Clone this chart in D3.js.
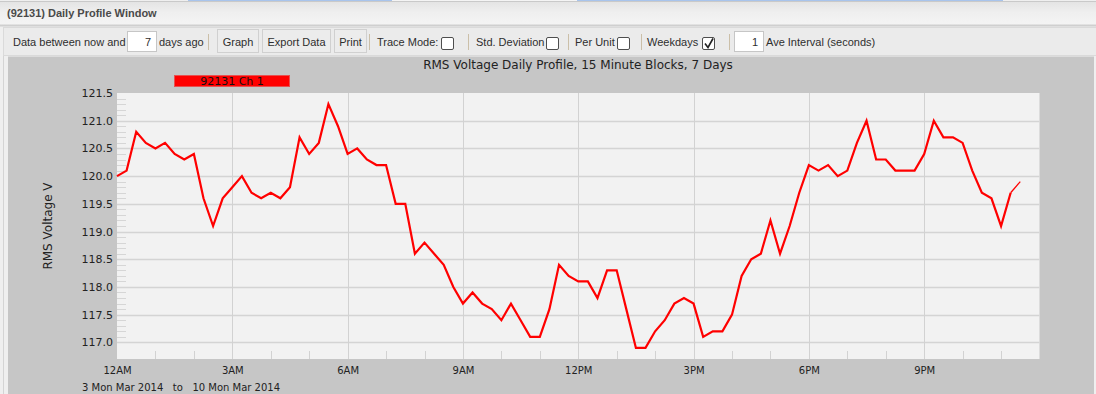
<!DOCTYPE html>
<html><head><meta charset="utf-8">
<script src="https://cdn.jsdelivr.net/npm/d3@7"></script>
<style>
html,body{margin:0;padding:0;background:#efefef;overflow:hidden}
svg{display:block}
</style></head>
<body>
<script>
// ---------- data ----------
const chartTitle = "RMS Voltage Daily Profile, 15 Minute Blocks, 7 Days";
const seriesName = "92131 Ch 1";
const yAxisLabel = "RMS Voltage V";
const dateRangeText = "3 Mon Mar 2014   to   10 Mon Mar 2014";
// 15-minute block index (0 = 12AM) and RMS voltage
const voltage = [
  120.0,120.1,120.8,120.6,120.5,120.6,120.4,120.3,120.4,119.6,
  119.1,119.6,119.8,120.0,119.7,119.6,119.7,119.6,119.8,120.7,
  120.4,120.6,121.3,120.9,120.4,120.5,120.3,120.2,120.2,119.5,
  119.5,118.6,118.8,118.6,118.4,118.0,117.7,117.9,117.7,117.6,
  117.4,117.7,117.4,117.1,117.1,117.6,118.4,118.2,118.1,118.1,
  117.8,118.3,118.3,117.6,116.9,116.9,117.2,117.4,117.7,117.8,
  117.7,117.1,117.2,117.2,117.5,118.2,118.5,118.6,119.2,118.6,
  119.1,119.7,120.2,120.1,120.2,120.0,120.1,120.6,121.0,120.3,
  120.3,120.1,120.1,120.1,120.4,121.0,120.7,120.7,120.6,120.1,
  119.7,119.6,119.1,119.7,119.9
];
const blockHours = voltage.map((v, i) => i * 0.25);
const xTickHours = [0, 3, 6, 9, 12, 15, 18, 21];
const xTickLabels = ["12AM", "3AM", "6AM", "9AM", "12PM", "3PM", "6PM", "9PM"];
const yTicks = [117.0, 117.5, 118.0, 118.5, 119.0, 119.5, 120.0, 120.5, 121.0, 121.5];

const toolbarItems = [
  {type:"text", label:"Data between now and", x:13},
  {type:"input", value:"7", x:127, w:29},
  {type:"text", label:"days ago", x:159},
  {type:"sep", x:208},
  {type:"button", label:"Graph", x:217, w:41},
  {type:"button", label:"Export Data", x:262, w:68},
  {type:"button", label:"Print", x:334, w:32},
  {type:"sep", x:369},
  {type:"text", label:"Trace Mode:", x:377},
  {type:"check", x:441, checked:false},
  {type:"sep", x:468},
  {type:"text", label:"Std. Deviation", x:476},
  {type:"check", x:546, checked:false},
  {type:"sep", x:568},
  {type:"text", label:"Per Unit", x:575},
  {type:"check", x:617, checked:false},
  {type:"sep", x:641},
  {type:"text", label:"Weekdays", x:647},
  {type:"check", x:702, checked:true},
  {type:"sep", x:729},
  {type:"input", value:"1", x:734, w:29},
  {type:"text", label:"Ave Interval (seconds)", x:766}
];

// ---------- drawing ----------
const W = 1096, H = 394;
const svg = d3.select("body").append("svg").attr("width", W).attr("height", H);
const defs = svg.append("defs");
const grad = defs.append("linearGradient").attr("id","tb").attr("x1",0).attr("y1",0).attr("x2",0).attr("y2",1);
grad.append("stop").attr("offset","0%").attr("stop-color","#e4e4e4");
grad.append("stop").attr("offset","45%").attr("stop-color","#efefef");
grad.append("stop").attr("offset","100%").attr("stop-color","#f4f4f4");

svg.append("rect").attr("width",W).attr("height",H).attr("fill","#efefef");
// top strip (window behind)
svg.append("rect").attr("x",188).attr("y",0).attr("width",815).attr("height",2).attr("fill","#a8c4ec");
svg.append("rect").attr("x",392).attr("y",0).attr("width",185).attr("height",2).attr("fill","#f4f4f4");
// title bar
svg.append("rect").attr("x",0).attr("y",2).attr("width",W).attr("height",23).attr("fill","url(#tb)");
svg.append("line").attr("x1",0).attr("x2",W).attr("y1",1.5).attr("y2",1.5).attr("stroke","#c9c9c9");
svg.append("line").attr("x1",0).attr("x2",W).attr("y1",25.5).attr("y2",25.5).attr("stroke","#cfcfcf").attr("stroke-width",2);
svg.append("text").attr("x",7).attr("y",17).attr("font-family","Liberation Sans, Arial, sans-serif")
  .attr("font-size",11).attr("font-weight","bold").attr("fill","#4a4a4a").text("(92131) Daily Profile Window");
svg.append("line").attr("x1",3.5).attr("x2",3.5).attr("y1",27).attr("y2",H).attr("stroke","#d4d4d4");

// toolbar
svg.append("rect").attr("x",3.5).attr("y",27.5).attr("width",W-3).attr("height",28).attr("fill","#ebebeb").attr("stroke","#dadada");
const tb = svg.append("g").attr("font-family","Liberation Sans, Arial, sans-serif").attr("font-size",11).attr("fill","#2e2e2e");
toolbarItems.forEach(it => {
  if (it.type === "text") {
    tb.append("text").attr("x",it.x).attr("y",46).text(it.label);
  } else if (it.type === "input") {
    tb.append("rect").attr("x",it.x+0.5).attr("y",31.5).attr("width",it.w).attr("height",20).attr("fill","#ffffff").attr("stroke","#c6c6c6");
    tb.append("text").attr("x",it.x+it.w-5).attr("y",46).attr("text-anchor","end").text(it.value);
  } else if (it.type === "button") {
    tb.append("rect").attr("x",it.x+0.5).attr("y",29.5).attr("width",it.w).attr("height",23).attr("fill","#ececec").attr("stroke","#d0d0d0");
    tb.append("text").attr("x",it.x+it.w/2+0.5).attr("y",46).attr("text-anchor","middle").text(it.label);
  } else if (it.type === "sep") {
    tb.append("line").attr("x1",it.x+0.5).attr("x2",it.x+0.5).attr("y1",34).attr("y2",50).attr("stroke","#cbbfa8");
  } else if (it.type === "check") {
    tb.append("rect").attr("x",it.x+0.5).attr("y",37.5).attr("width",12).attr("height",12).attr("rx",1.5)
      .attr("fill","#ffffff").attr("stroke","#4e4e4e");
    if (it.checked) {
      tb.append("path").attr("d",`M${it.x+3},43.5 L${it.x+6},47.5 L${it.x+11},38.5`)
        .attr("fill","none").attr("stroke","#222").attr("stroke-width",1.6);
    }
  }
});

// chart panel
svg.append("rect").attr("x",8).attr("y",57).attr("width",1086).attr("height",H-57).attr("fill","#c6c6c6");
svg.append("line").attr("x1",8).attr("x2",1094).attr("y1",56.5).attr("y2",56.5).attr("stroke","#dcdcdc");

const plot = {left:117, right:1039.5, top:93, bottom:359};
const x = d3.scaleLinear().domain([0,24]).range([plot.left, plot.right]);
const y = d3.scaleLinear().domain([116.7,121.5]).range([plot.bottom, plot.top]);

const chartFont = "DejaVu Sans, Verdana, sans-serif";
svg.append("text").attr("x",578).attr("y",69).attr("text-anchor","middle").attr("font-family",chartFont)
  .attr("font-size",12).attr("fill","#222").text(chartTitle);

// legend
svg.append("rect").attr("x",174.5).attr("y",75.5).attr("width",115).attr("height",11).attr("fill","#ff0000").attr("stroke","#e85050");
svg.append("text").attr("x",232).attr("y",84.5).attr("text-anchor","middle").attr("font-family",chartFont)
  .attr("font-size",11).attr("fill","#111").text(seriesName);

// plot background
svg.append("rect").attr("x",plot.left).attr("y",plot.top).attr("width",plot.right-plot.left).attr("height",plot.bottom-plot.top).attr("fill","#f2f2f2");

// horizontal gridlines
const g = svg.append("g");
g.selectAll("line.hg").data(yTicks.filter(v => v < 121.5)).join("line").attr("class","hg")
  .attr("x1",plot.left).attr("x2",plot.right).attr("y1",d=>Math.round(y(d))+0.5).attr("y2",d=>Math.round(y(d))+0.5)
  .attr("stroke","#d4d4d4").attr("stroke-width",1.5);
// vertical gridlines
g.selectAll("line.vg").data(xTickHours.filter(h => h > 0)).join("line").attr("class","vg")
  .attr("x1",d=>Math.round(x(d))+0.5).attr("x2",d=>Math.round(x(d))+0.5).attr("y1",plot.top).attr("y2",plot.bottom)
  .attr("stroke","#d2d2d2").attr("stroke-width",1);
// y minor ticks
const yMinor = d3.range(117.0, 121.5001, 0.1).filter(v => Math.abs(v*2 - Math.round(v*2)) > 0.01);
g.selectAll("line.ym").data(yMinor).join("line").attr("class","ym")
  .attr("x1",plot.left).attr("x2",plot.left+9).attr("y1",d=>Math.round(y(d))+0.5).attr("y2",d=>Math.round(y(d))+0.5)
  .attr("stroke","#d6d6d6");
// x minor ticks
const xMinor = d3.range(1, 24).filter(h => h % 3 !== 0);
g.selectAll("line.xm").data(xMinor).join("line").attr("class","xm")
  .attr("x1",d=>Math.round(x(d))+0.5).attr("x2",d=>Math.round(x(d))+0.5).attr("y1",plot.bottom-8).attr("y2",plot.bottom)
  .attr("stroke","#d2d2d2");

// axes labels via d3 axes
const yAxis = d3.axisLeft(y).tickValues(yTicks).tickFormat(d3.format(".1f")).tickSize(0).tickPadding(4);
const ya = svg.append("g").attr("transform",`translate(${plot.left},0)`).call(yAxis);
ya.select(".domain").remove();
ya.selectAll("text").attr("font-family",chartFont).attr("font-size",11).attr("fill","#222");

const xAxis = d3.axisBottom(x).tickValues(xTickHours).tickFormat((d,i)=>xTickLabels[i]).tickSize(0).tickPadding(8);
const xa = svg.append("g").attr("transform",`translate(0,${plot.bottom})`).call(xAxis);
xa.select(".domain").remove();
xa.selectAll("text").attr("font-family",chartFont).attr("font-size",10).attr("fill","#222");

svg.append("text").attr("transform","translate(52,226) rotate(-90)").attr("text-anchor","middle")
  .attr("font-family",chartFont).attr("font-size",12).attr("fill","#222").text(yAxisLabel);
svg.append("text").attr("x",82).attr("y",391).attr("font-family",chartFont).attr("font-size",10)
  .attr("fill","#222").attr("xml:space","preserve").style("white-space","pre").text(dateRangeText);

// series line
const pts = voltage.map((v,i)=>({h:blockHours[i], v}));
const line = d3.line().x(d=>x(d.h)).y(d=>y(d.v));
svg.append("path").datum(pts.slice(0, pts.length-1)).attr("d",line).attr("fill","none")
  .attr("stroke","#ff0000").attr("stroke-width",2.2).attr("stroke-linejoin","miter");
svg.append("path").datum(pts.slice(pts.length-2)).attr("d",line).attr("fill","none")
  .attr("stroke","#ff0000").attr("stroke-width",1.3);
</script>
</body></html>
